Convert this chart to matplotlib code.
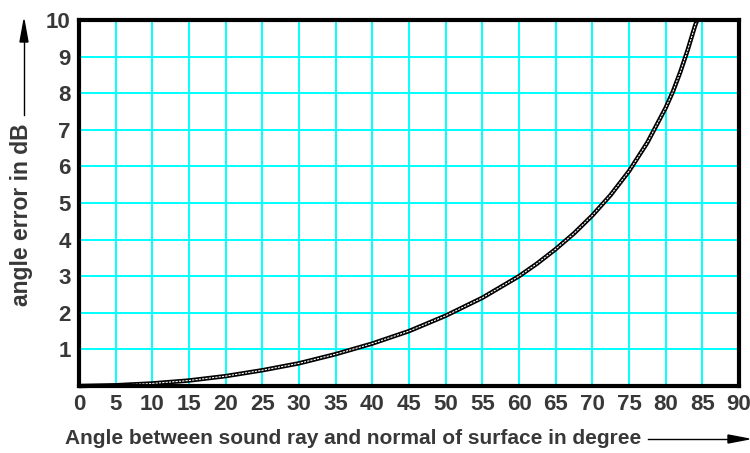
import numpy as np
import matplotlib.pyplot as plt

# angle (deg) vs angle error (dB)
angle = [0, 5, 10, 15, 20, 25, 30, 35, 40, 45, 50, 55, 60, 62.5, 65, 67.5,
         70, 72.5, 75, 77.5, 80, 81, 82, 83, 84, 84.3]
error = [0, 0.02, 0.07, 0.15, 0.27, 0.43, 0.62, 0.87, 1.16, 1.5, 1.92, 2.41,
         3.0, 3.35, 3.74, 4.17, 4.66, 5.22, 5.87, 6.65, 7.6, 8.05, 8.58, 9.18, 9.84, 10.0]

x_ticks = list(range(0, 95, 5))
y_ticks = list(range(1, 11))

plt.rcParams['font.family'] = ['Liberation Sans', 'DejaVu Sans']
txt = '#383838'

fig = plt.figure(figsize=(7.5, 4.53), dpi=100)
ax = fig.add_axes([79 / 750, 1 - 386 / 453, 660 / 750, 366 / 453])

ax.set_xlim(0, 90)
ax.set_ylim(0, 10)
ax.set_xticks(x_ticks)
ax.set_yticks(y_ticks)
ax.grid(True, color='#00ffff', linewidth=1.4)
ax.set_axisbelow(True)
ax.tick_params(length=0, pad=6, labelsize=16, labelcolor=txt)
for lab in ax.get_xticklabels() + ax.get_yticklabels():
    lab.set_fontweight('bold')
for s in ax.spines.values():
    s.set_linewidth(3)
    s.set_color('black')

# double-stroke curve
ax.plot(angle, error, color='black', linewidth=3.2, solid_capstyle='butt', clip_on=False)
ax.plot(angle, error, color='white', linewidth=0.8, linestyle=(0, (2, 1)), clip_on=False)

fig.text(65 / 750, 1 - 439 / 453, 'Angle between sound ray and normal of surface in degree',
         fontsize=15, fontweight='bold', color=txt, va='center', ha='left')
fig.text(22 / 750, 1 - 215 / 453, 'angle error in dB', fontsize=16.5, fontweight='bold',
         color=txt, rotation=90, va='center', ha='center')

# arrows
fig.add_artist(plt.Line2D([24 / 750, 24 / 750], [1 - 115 / 453, 1 - 30 / 453],
                          color='black', linewidth=1))
fig.patches.append(plt.Polygon([[20 / 750, 1 - 42 / 453], [28 / 750, 1 - 42 / 453],
                                [24 / 750, 1 - 20 / 453]], closed=True, color='black',
                               transform=fig.transFigure, figure=fig))
fig.add_artist(plt.Line2D([648 / 750, 735 / 750], [1 - 439 / 453, 1 - 439 / 453],
                          color='black', linewidth=1))
fig.patches.append(plt.Polygon([[728 / 750, 1 - 435 / 453], [728 / 750, 1 - 443 / 453],
                                [749 / 750, 1 - 439 / 453]], closed=True, color='black',
                               transform=fig.transFigure, figure=fig))

fig.savefig('out.png', dpi=100)
